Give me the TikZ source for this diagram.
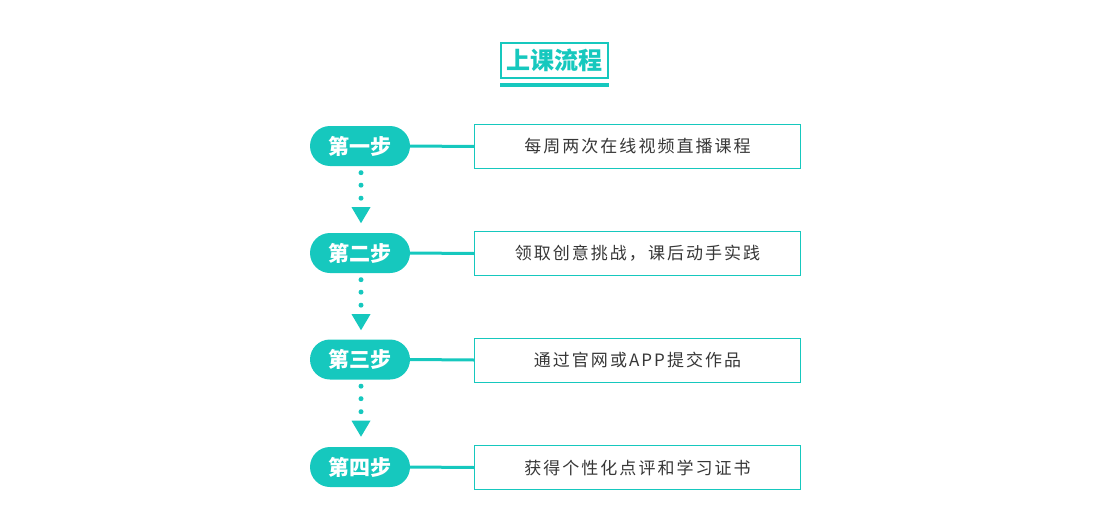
\documentclass[tikz,border=0pt]{standalone}
\usepackage{fontspec}
\usepackage{xcolor}
\usetikzlibrary{positioning,calc}
\newfontfamily\cjk{Noto Sans CJK SC}
\newfontfamily\cjkspaced{Noto Sans CJK SC}[LetterSpace=12]
\definecolor{mainteal}{RGB}{22,200,190}
\definecolor{txtgray}{RGB}{55,55,55}

\begin{document}
\begin{tikzpicture}[x=1pt,y=-1pt,
  steppill/.style={fill=mainteal, rectangle, rounded corners=20pt, minimum width=100pt, minimum height=40pt, inner sep=0pt, text=white, font=\cjk\bfseries\fontsize{21}{21}\selectfont},
  stepbox/.style={draw=mainteal, line width=1pt, minimum width=326pt, minimum height=44pt, inner sep=0pt, text=txtgray, font=\cjkspaced\fontsize{17}{17}\selectfont},
  link/.style={mainteal, line width=3pt}]
\useasboundingbox (0,0) rectangle (1111,514);
% title
\node[draw=mainteal, line width=2pt, minimum width=107pt, minimum height=35pt, inner sep=0pt, text=mainteal, font=\cjk\bfseries\fontsize{24}{24}\selectfont] (title) at (554.5,60.5) {上课流程};
\node[fill=mainteal, minimum width=109pt, minimum height=4pt, inner sep=0pt, below=4pt of title] (bar) {};
% steps
\foreach \i/\y/\lbl/\txt in {1/146/第一步/每周两次在线视频直播课程,
                               2/253/第二步/领取创意挑战，课后动手实践,
                               3/359.5/第三步/通过官网或APP提交作品,
                               4/467/第四步/获得个性化点评和学习证书}{
  \node[steppill] (p\i) at (360,\y) {\lbl};
  \node[stepbox] (b\i) at (637.5,\y+0.5) {\txt};
  \draw[link] (p\i.east) -- (b\i.west);
}
% dots and arrow heads
\foreach \i in {1,2,3}{
  \foreach \d in {6.5,19,32}
    \fill[mainteal] ($(p\i.south)+(1,\d)$) circle (2.5);
  \fill[mainteal] ($(p\i.south)+(-8.5,41)$) -- ++(19,0) -- ++(-9.5,16) -- cycle;
}
\end{tikzpicture}
\end{document}
